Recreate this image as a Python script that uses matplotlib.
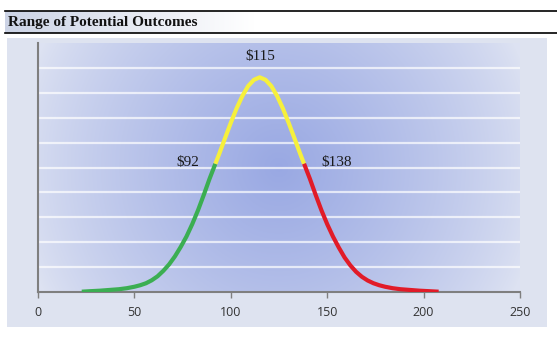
import numpy as np
import matplotlib.pyplot as plt
from matplotlib.patches import Rectangle

# values (x = outcome, y = relative height)
curve_x = [22.7, 27, 32, 37, 42, 46, 50, 53, 56, 59, 62, 65, 68, 71, 74, 77, 80, 83, 86, 89, 92,
           94, 97, 100, 103, 106, 109, 112, 115, 118, 121, 124, 127, 130, 133, 136, 138,
           141, 144, 147, 150, 153, 156, 159, 162, 165, 168, 171, 174, 177, 180, 184, 188,
           193, 198, 203, 207.8]
curve_y = [0.0, 0.02, 0.04, 0.07, 0.10, 0.14, 0.20, 0.26, 0.34, 0.46, 0.62, 0.84, 1.10, 1.42,
           1.80, 2.22, 2.72, 3.28, 3.90, 4.55, 5.15,
           5.55, 6.18, 6.80, 7.38, 7.88, 8.28, 8.53, 8.63, 8.53, 8.28, 7.88, 7.38, 6.80, 6.18,
           5.55, 5.15,
           4.55, 3.90, 3.28, 2.72, 2.22, 1.78, 1.38, 1.06, 0.80, 0.60, 0.45, 0.34, 0.26, 0.20,
           0.14, 0.10, 0.07, 0.04, 0.02, 0.0]
low, mid, high = 92, 115, 138
labels = ['$92', '$115', '$138']
xticks = [0, 50, 100, 150, 200, 250]

W, H = 557, 337
fig = plt.figure(figsize=(W / 100, H / 100), dpi=100)
fig.patch.set_facecolor('white')

# background in pixel coordinates
bg = fig.add_axes([0, 0, 1, 1], zorder=-1)
bg.axis('off')
tg = np.linspace(0, 1, 300)
tcol = np.clip(tg / 0.45, 0, 1)
c0 = np.array([0.80, 0.83, 0.90])
c1 = np.array([1.0, 1.0, 1.0])
timg = (c0[None, :] * (1 - tcol[:, None]) + c1[None, :] * tcol[:, None])[None, :, :]
bg.imshow(timg, extent=[5, W, 33, 11], aspect='auto', interpolation='bilinear')
bg.plot([5, W], [10.7, 10.7], color='black', lw=1.2)
bg.plot([5, W], [33.3, 33.3], color='black', lw=1.2)
bg.text(8, 22.5, 'Range of Potential Outcomes', fontsize=11, fontweight='bold',
        family='Liberation Serif', va='center', ha='left', color='#111111')
bg.add_patch(Rectangle((7, 38), 540, 289, facecolor='#dee3f0', edgecolor='none'))
bg.set_xlim(0, W)
bg.set_ylim(H, 0)

ax = fig.add_axes([38 / W, (H - 291.7) / H, (520 - 38) / W, (291.7 - 43.3) / H])
ax.set_facecolor('none')
ax.set_xlim(0, 250)
ax.set_ylim(0, 10)

# radial blue gradient of the plot area
u = np.linspace(0, 1, 400)
v = np.linspace(0, 1, 200)
U, V = np.meshgrid(u, v)
r = np.sqrt(((U - 0.5) / 0.55) ** 2 + ((V - 0.5) / 1.1) ** 2)
t = np.clip(1 - r, 0, 1) ** 0.8
edge = np.array([0.87, 0.89, 0.95])
center = np.array([0.60, 0.66, 0.89])
img = edge * (1 - t[..., None]) + center * t[..., None]
ax.imshow(img, extent=[0, 250, 0, 10], aspect='auto', zorder=0, interpolation='bilinear')

for gy in range(1, 10):
    ax.axhline(gy, color='white', lw=1.6, alpha=0.7, zorder=1)

cx = np.array(curve_x)
cy = np.array(curve_y)
g = cx <= low
y_ = (cx >= low) & (cx <= high)
rr = cx >= high
kw = dict(lw=3, zorder=3, solid_capstyle='butt', solid_joinstyle='round')
ax.plot(cx[g], cy[g], color='#3bae52', **kw)
ax.plot(cx[y_], cy[y_], color='#f6f03c', **kw)
ax.plot(cx[rr], cy[rr], color='#e11b28', **kw)

tk = dict(fontsize=11, family='Liberation Serif', ha='center', va='center', color='#1a1a1a')
ax.text(77.9, 5.2, labels[0], **tk)
ax.text(115.3, 9.47, labels[1], **tk)
ax.text(154.7, 5.2, labels[2], **tk)

for s in ['top', 'right']:
    ax.spines[s].set_visible(False)
ax.spines['left'].set_color('#7f7f7f')
ax.spines['bottom'].set_color('#7f7f7f')
ax.spines['left'].set_linewidth(1.5)
ax.spines['bottom'].set_linewidth(1.5)
ax.set_yticks([])
ax.set_xticks(xticks)
ax.tick_params(axis='x', length=4, width=1, color='#7f7f7f', pad=6, labelsize=9, labelcolor='#333333')
for lb in ax.get_xticklabels():
    lb.set_family('Open Sans')

fig.savefig('out.png', dpi=100)
